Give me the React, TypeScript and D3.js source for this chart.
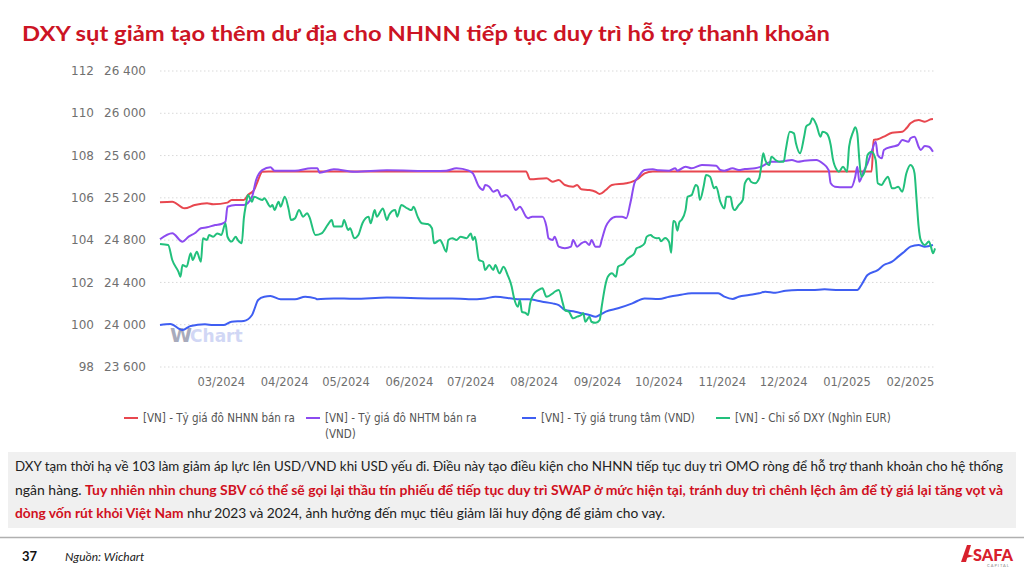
import * as d3 from "d3";

// dates are stored as day offsets from START
const START = new Date(2024, 1, 1);
const END_DAY = 379;

const TITLE = "DXY sụt giảm tạo thêm dư địa cho NHNN tiếp tục duy trì hỗ trợ thanh khoản";

const LEFT_TICKS = [98, 100, 102, 104, 106, 108, 110, 112];
const RIGHT_TICKS = [23600, 24000, 24400, 24800, 25200, 25600, 26000, 26400];
const MONTH_TICKS = [
  "2024-03-01", "2024-04-01", "2024-05-01", "2024-06-01", "2024-07-01", "2024-08-01",
  "2024-09-01", "2024-10-01", "2024-11-01", "2024-12-01", "2025-01-01", "2025-02-01",
];

// [VN] - Tỷ giá đô NHNN bán ra
const nhnn: [number, number][] = [
  [0, 25158], [6, 25164], [12, 25101], [17, 25132], [23, 25149], [26, 25140], [33, 25155],
  [35, 25180], [41, 25180], [43, 25227], [46, 25274], [48, 25369], [50, 25447], [53, 25450],
  [179, 25450], [181, 25375], [189, 25385], [192, 25353], [195, 25369], [198, 25322],
  [202, 25306], [204, 25322], [206, 25281], [210, 25274], [213, 25258], [215, 25236],
  [218, 25274], [221, 25322], [228, 25338], [231, 25353], [234, 25385], [237, 25432],
  [241, 25450], [348, 25450], [349, 25747], [351, 25754], [354, 25779], [358, 25816],
  [363, 25826], [365, 25858], [367, 25905], [371, 25936], [374, 25920], [377, 25943], [378, 25945],
];

// [VN] - Tỷ giá đô NHTM bán ra (VND)
const nhtm: [number, number][] = [
  [0, 24808], [6, 24865], [11, 24785], [14, 24833], [17, 24865], [20, 24912], [23, 24921],
  [27, 24943], [30, 24953], [32, 24974], [33, 25116], [37, 25132], [41, 25132], [45, 25211],
  [47, 25369], [50, 25463], [54, 25489], [56, 25457], [66, 25457], [74, 25480], [77, 25480],
  [78, 25438], [85, 25470], [95, 25447], [111, 25460], [134, 25454], [140, 25457], [145, 25480],
  [151, 25457], [153, 25432], [156, 25306], [158, 25274], [159, 25322], [161, 25306],
  [163, 25258], [165, 25274], [167, 25211], [169, 25227], [172, 25164], [174, 25085],
  [176, 25116], [179, 25022], [180, 25007], [182, 25022], [187, 25022], [189, 24927],
  [190, 24817], [192, 24801], [193, 24833], [195, 24738], [198, 24723], [201, 24738],
  [202, 24801], [204, 24738], [206, 24770], [208, 24785], [210, 24754], [211, 24801],
  [213, 24738], [215, 24738], [216, 24801], [218, 24927], [220, 24990], [223, 25022],
  [226, 25022], [228, 25007], [230, 25149], [232, 25338], [234, 25400], [237, 25463],
  [241, 25470], [244, 25460], [249, 25457], [252, 25480], [253, 25457], [257, 25495],
  [260, 25480], [265, 25511], [272, 25504], [274, 25463], [276, 25457], [280, 25480],
  [283, 25463], [286, 25473], [291, 25480], [294, 25495], [299, 25542], [302, 25542],
  [306, 25551], [309, 25558], [312, 25542], [315, 25551], [321, 25558], [324, 25527],
  [327, 25463], [328, 25338], [330, 25306], [335, 25300], [338, 25300], [340, 25400],
  [341, 25495], [342, 25353], [344, 25447], [346, 25527], [348, 25637], [350, 25731],
  [351, 25605], [353, 25574], [354, 25653], [358, 25684], [361, 25700], [363, 25747],
  [366, 25731], [367, 25763], [369, 25779], [371, 25684], [372, 25653], [374, 25690],
  [376, 25684], [378, 25637],
];

// [VN] - Tỷ giá trung tâm (VND)
const trungTam: [number, number][] = [
  [0, 23997], [5, 24007], [11, 23950], [15, 23988], [22, 24004], [26, 23997], [31, 23997],
  [35, 24029], [41, 24035], [45, 24092], [46, 24139], [48, 24234], [51, 24265], [54, 24271],
  [59, 24240], [66, 24240], [71, 24265], [76, 24249], [77, 24240], [85, 24249], [95, 24245],
  [111, 24257], [134, 24249], [143, 24249], [151, 24240], [159, 24249], [164, 24265],
  [176, 24240], [180, 24240], [187, 24218], [192, 24202], [195, 24186], [198, 24139],
  [203, 24123], [206, 24108], [210, 24092], [213, 24076], [215, 24092], [218, 24123],
  [224, 24155], [231, 24202], [237, 24249], [244, 24243], [249, 24265], [254, 24281],
  [260, 24297], [268, 24297], [273, 24297], [276, 24265], [280, 24243], [283, 24265],
  [288, 24281], [293, 24297], [296, 24313], [301, 24303], [306, 24322], [312, 24328],
  [319, 24328], [325, 24335], [332, 24328], [341, 24328], [343, 24376], [346, 24470],
  [351, 24517], [354, 24565], [358, 24596], [361, 24644], [364, 24691], [367, 24738],
  [371, 24754], [374, 24738], [378, 24754],
];

// [VN] - Chỉ số DXY (Nghìn EUR)
const dxy: [number, number][] = [
  [0, 103.82], [4, 103.77], [6, 103.06], [9, 102.51], [10, 102.27], [11, 102.82], [13, 102.74],
  [15, 103.38], [16, 103.06], [18, 103.45], [20, 102.98], [21, 104.09], [23, 104.01], [24, 104.24],
  [26, 104.16], [28, 104.32], [30, 104.24], [32, 104.8], [33, 104.16], [35, 103.93], [37, 104.16],
  [38, 104.01], [40, 103.85], [41, 105.03], [42, 105.66], [43, 106.13], [45, 105.82], [46, 106.05],
  [50, 105.9], [51, 105.98], [54, 105.58], [55, 105.66], [56, 105.42], [58, 105.82], [59, 105.58],
  [61, 106.05], [63, 105.42], [64, 104.95], [66, 105.03], [68, 105.42], [70, 105.11], [72, 105.27],
  [73, 105.11], [76, 104.24], [79, 104.32], [82, 104.72], [84, 104.95], [85, 104.64], [89, 104.64],
  [90, 104.95], [92, 104.48], [93, 104.56], [95, 104.09], [97, 104.24], [99, 104.8], [102, 105.11],
  [103, 104.8], [105, 105.42], [106, 105.11], [109, 105.5], [111, 104.95], [112, 105.19],
  [115, 105.42], [116, 105.11], [118, 105.66], [121, 105.5], [123, 105.42], [124, 105.58],
  [126, 105.11], [128, 104.8], [131, 104.76], [133, 104.56], [134, 103.85], [137, 104.01],
  [138, 103.85], [140, 103.45], [141, 104.01], [143, 104.09], [145, 104.01], [147, 104.16],
  [150, 104.09], [152, 104.32], [153, 104.01], [154, 104.16], [156, 103.06], [158, 102.98],
  [159, 102.59], [161, 102.82], [163, 102.59], [164, 102.82], [166, 102.43], [168, 102.74],
  [170, 102.35], [172, 101.8], [173, 101.32], [175, 100.85], [176, 101.17], [177, 100.61],
  [179, 100.54], [180, 100.46], [181, 101.01], [183, 101.48], [185, 101.64], [187, 101.72],
  [189, 101.32], [192, 101.48], [193, 101.56], [195, 101.64], [197, 101.01], [198, 100.69],
  [200, 100.61], [202, 100.3], [204, 100.38], [206, 100.46], [207, 100.54], [208, 100.14],
  [210, 100.38], [211, 100.14], [213, 100.09], [215, 100.22], [216, 100.85], [218, 101.96],
  [219, 102.27], [221, 102.43], [223, 102.27], [224, 102.74], [227, 102.9], [228, 103.06],
  [230, 103.22], [232, 103.38], [233, 103.61], [235, 103.69], [237, 103.85], [238, 104.16],
  [240, 104.24], [241, 104.16], [243, 104.09], [244, 104.1], [245, 103.95], [247, 104.1],
  [249, 103.9], [250, 103.4], [251, 104.9], [252, 104.85], [253, 104.45], [254, 104.85],
  [255, 104.95], [257, 105.42], [258, 106.05], [260, 106.13], [262, 106.61], [263, 106.53],
  [264, 105.9], [266, 106.61], [267, 107.08], [269, 107.0], [271, 106.45], [272, 106.53],
  [274, 105.82], [276, 105.5], [277, 106.05], [279, 106.05], [280, 105.58], [281, 105.42],
  [283, 105.66], [285, 105.9], [286, 106.69], [288, 106.92], [289, 106.76], [291, 106.69],
  [293, 106.92], [294, 107.47], [295, 108.11], [296, 107.79], [298, 107.55], [299, 107.95],
  [301, 107.79], [303, 107.71], [305, 107.71], [306, 108.26], [308, 109.13], [310, 109.05],
  [311, 108.58], [313, 108.11], [315, 108.89], [316, 109.37], [318, 109.53], [319, 109.76],
  [321, 109.45], [323, 108.89], [324, 109.13], [326, 109.05], [328, 108.5], [329, 107.87],
  [331, 107.32], [332, 107.24], [334, 107.47], [336, 107.24], [337, 108.42], [339, 109.13],
  [340, 109.34], [341, 109.05], [342, 107.79], [343, 107.0], [345, 107.4], [346, 108.03],
  [348, 108.18], [350, 107.79], [351, 106.69], [353, 106.61], [354, 106.76], [356, 107.0],
  [358, 106.45], [359, 106.45], [361, 106.53], [363, 106.29], [365, 107.16], [367, 107.55],
  [368, 107.47], [369, 107.16], [370, 105.9], [371, 104.64], [372, 104.01], [374, 103.77],
  [376, 103.93], [377, 103.69], [378, 103.38], [379, 103.61],
];

const SERIES = [
  { name: "[VN] - Tỷ giá đô NHNN bán ra", data: nhnn, color: "#e8474f", axis: "right" },
  { name: "[VN] - Tỷ giá đô NHTM bán ra", name2: "(VND)", data: nhtm, color: "#8c4bf0", axis: "right" },
  { name: "[VN] - Tỷ giá trung tâm (VND)", data: trungTam, color: "#3f5ef2", axis: "right" },
  { name: "[VN] - Chỉ số DXY (Nghìn EUR)", data: dxy, color: "#22c07c", axis: "left" },
];
const LEGEND_X = [124, 306, 522, 716];

const W = 1024;
const H = 574;
const plot = { left: 160, right: 935, top: 71, bottom: 367 };

const spaceFmt = d3.formatLocale({ decimal: ".", thousands: " ", grouping: [3], currency: ["", ""] }).format(",d");

export default function App() {
  const x = d3
    .scaleTime()
    .domain([START, d3.timeDay.offset(START, END_DAY)])
    .range([plot.left, plot.right]);
  const yLeft = d3.scaleLinear().domain([98, 112]).range([plot.bottom, plot.top]);
  const yRight = d3.scaleLinear().domain([23600, 26400]).range([plot.bottom, plot.top]);

  const makeLine = (axis: string) =>
    d3
      .line<[number, number]>()
      .x((d) => x(d3.timeDay.offset(START, d[0])))
      .y((d) => (axis === "left" ? yLeft(d[1]) : yRight(d[1])))
      .curve(d3.curveMonotoneX);

  const tickFont = "'DejaVu Sans', sans-serif";

  return (
    <svg
      width={W}
      height={H}
      style={{ position: "absolute", left: 0, top: 0, background: "#fff" }}
    >
      <text x={22} y={41} fill="#cc1424" fontFamily="Lato, 'Open Sans', sans-serif" fontWeight={700}
        fontSize={21.5} textLength={808} lengthAdjust="spacingAndGlyphs">
        {TITLE}
      </text>

      {/* grid */}
      {LEFT_TICKS.map((t) => (
        <line key={t} x1={plot.left} x2={plot.right} y1={yLeft(t)} y2={yLeft(t)}
          stroke="#d9d9d9" strokeWidth={1} strokeDasharray="1.5,2.5" />
      ))}

      {/* y labels */}
      {LEFT_TICKS.map((t) => (
        <text key={"l" + t} x={94} y={yLeft(t)} dy="0.35em" textAnchor="end" fontFamily={tickFont}
          fontSize={12} fill="#707070">{t}</text>
      ))}
      {RIGHT_TICKS.map((t) => (
        <text key={"r" + t} x={146} y={yRight(t)} dy="0.35em" textAnchor="end" fontFamily={tickFont}
          fontSize={12} fill="#707070">{spaceFmt(t)}</text>
      ))}

      {/* x labels */}
      {MONTH_TICKS.map((m) => {
        const d = new Date(m + "T00:00:00");
        return (
          <text key={m} x={x(d) + 2} y={386} textAnchor="middle" fontFamily={tickFont}
            fontSize={11.5} fill="#707070">{d3.timeFormat("%m/%Y")(d)}</text>
        );
      })}

      {/* watermark */}
      <text x={170} y={342} fontFamily="'DejaVu Sans', sans-serif" fontWeight={700} fontSize={20} opacity={0.6}>
        <tspan fill="#6f7490">W</tspan>
        <tspan fill="#b3bdf0" fontSize={17} dx={-2}>Chart</tspan>
      </text>

      {/* series */}
      {SERIES.map((s) => (
        <path key={s.name} d={makeLine(s.axis)(s.data) ?? ""} fill="none" stroke={s.color}
          strokeWidth={2} strokeLinejoin="round" />
      ))}

      {/* legend */}
      {SERIES.map((s, i) => (
        <g key={"lg" + i} transform={`translate(${LEGEND_X[i]},418)`}>
          <line x1={0} x2={14} y1={0} y2={0} stroke={s.color} strokeWidth={2} />
          <text x={19} y={0} dy="0.35em" fontFamily="'DejaVu Sans Condensed', 'DejaVu Sans', sans-serif"
            fontSize={11.5} fill="#555">{s.name}</text>
          {s.name2 && (
            <text x={19} y={16} dy="0.35em" fontFamily="'DejaVu Sans Condensed', 'DejaVu Sans', sans-serif"
              fontSize={11.5} fill="#555">{s.name2}</text>
          )}
        </g>
      ))}

      {/* comment box */}
      <rect x={8} y={452} width={1008} height={76} fill="#f0f0f0" />
      <g fontFamily="Lato, 'Open Sans', sans-serif" fontSize={12.5} fill="#222">
        <text x={15} y={471} textLength={988} lengthAdjust="spacingAndGlyphs">
          DXY tạm thời hạ về 103 làm giảm áp lực lên USD/VND khi USD yếu đi. Điều này tạo điều kiện cho NHNN tiếp tục duy trì OMO ròng để hỗ trợ thanh khoản cho hệ thống
        </text>
        <text x={15} y={495} textLength={988} lengthAdjust="spacingAndGlyphs">
          <tspan>ngân hàng. </tspan>
          <tspan fill="#d0101e" fontWeight={700}>
            Tuy nhiên nhìn chung SBV có thể sẽ gọi lại thầu tín phiếu để tiếp tục duy trì SWAP ở mức hiện tại, tránh duy trì chênh lệch âm để tỷ giá lại tăng vọt và
          </tspan>
        </text>
        <text x={15} y={518} textLength={650} lengthAdjust="spacingAndGlyphs">
          <tspan fill="#d0101e" fontWeight={700}>dòng vốn rút khỏi Việt Nam</tspan>
          <tspan> như 2023 và 2024, ảnh hưởng đến mục tiêu giảm lãi huy động để giảm cho vay.</tspan>
        </text>
      </g>

      {/* footer */}
      <line x1={0} x2={W} y1={537.5} y2={537.5} stroke="#b0b0b0" strokeWidth={1.5} />
      <text x={22} y={561} fontFamily="Lato, sans-serif" fontWeight={700} fontSize={13} fill="#111">37</text>
      <text x={65} y={561} fontFamily="Lato, sans-serif" fontStyle="italic" fontSize={12} fill="#222">Nguồn: Wichart</text>

      {/* logo */}
      <g transform="translate(957,545)">
        <path d="M4,17 L10,0 L14,0 L9,17 Z" fill="#d8202c" />
        <path d="M9,9 L17,11 L9,13 Z" fill="#d8202c" />
        <text x={16} y={15.5} fontFamily="Lato, sans-serif" fontWeight={900} fontSize={17}
          fill="#d8202c" textLength={40} lengthAdjust="spacingAndGlyphs">SAFA</text>
        <text x={30} y={22} fontFamily="Lato, sans-serif" fontSize={4} fill="#888" letterSpacing={1}>CAPITAL</text>
      </g>
    </svg>
  );
}
